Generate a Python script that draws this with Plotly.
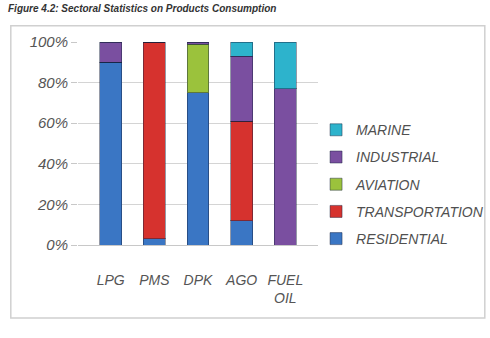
import plotly.graph_objects as go

# Share of each product consumed by sector (%)
products = ["LPG", "PMS", "DPK", "AGO", "FUEL<br>OIL"]
residential = [90, 3, 75, 12, 0]
transportation = [0, 97, 0, 49, 0]
aviation = [0, 0, 24, 0, 0]
industrial = [10, 0, 1, 32, 77]
marine = [0, 0, 0, 7, 23]
y_ticks = [0, 20, 40, 60, 80, 100]
y_tick_labels = ["0%", "20%", "40%", "60%", "80%", "100%"]

series = [
    ("RESIDENTIAL", residential, "#3a76c4"),
    ("TRANSPORTATION", transportation, "#d6322e"),
    ("AVIATION", aviation, "#9bc23c"),
    ("INDUSTRIAL", industrial, "#7a4fa0"),
    ("MARINE", marine, "#2db3cc"),
]

fig = go.Figure()
n = len(series)
for i, (name, vals, color) in enumerate(series):
    fig.add_trace(go.Bar(
        x=products, y=vals, name=name, legendgroup=name,
        legendrank=n - i,  # top of the stack listed first
        marker=dict(color=color, line=dict(color="rgba(20,30,60,0.45)", width=1)),
        width=0.5,
    ))

label_font = dict(family="Liberation Sans, Arial", size=15, color="#555555", style="italic")
x_font = dict(family="Liberation Sans, Arial", size=14, color="#555555", style="italic")

fig.update_layout(
    barmode="stack",
    width=490, height=338,
    margin=dict(l=78, r=172, t=42, b=93, autoexpand=False),
    paper_bgcolor="white",
    plot_bgcolor="white",
    showlegend=True,
    legend=dict(
        traceorder="grouped",
        xref="container", yref="container",
        x=0.645, y=0.455, xanchor="left", yanchor="middle",
        font=dict(family="Liberation Sans, Arial", size=14, color="#505050", style="italic"),
        itemwidth=30, tracegroupgap=6,
        bgcolor="rgba(0,0,0,0)",
    ),
    xaxis=dict(
        range=[-0.75, 4.75], showgrid=False, zeroline=False,
        showline=True, linecolor="#c8c8c8",
        ticks="", tickfont=x_font, ticklabelstandoff=22,
    ),
    yaxis=dict(
        range=[0, 100], tickvals=y_ticks, ticktext=y_tick_labels,
        showgrid=True, gridcolor="#d4d4d4", zeroline=False,
        showline=False, tickfont=label_font, ticks="outside",
        ticklen=6, tickcolor="#c8c8c8",
    ),
)

# Outer frame around the chart area
fig.add_shape(type="rect", xref="paper", yref="paper",
              x0=-0.28, x1=1.695, y0=-0.36, y1=1.08,
              line=dict(color="#d0d0d0", width=1.5), fillcolor="rgba(0,0,0,0)")

# Figure caption along the top edge
fig.add_annotation(
    text="Figure 4.2: Sectoral Statistics on Products Consumption",
    xref="paper", yref="paper", x=-0.30, y=1.165,
    xanchor="left", yanchor="middle", showarrow=False,
    font=dict(family="Liberation Sans, Arial", size=10, color="#333333",
              weight="bold", style="italic"),
)

fig.write_html("out.html")
